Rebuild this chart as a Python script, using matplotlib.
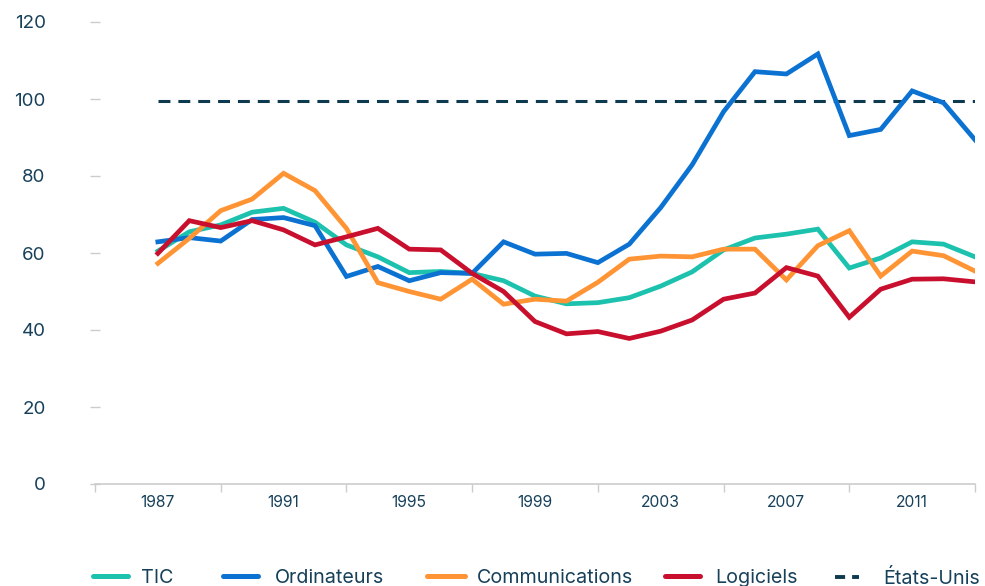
import numpy as np
import matplotlib.pyplot as plt
from matplotlib.lines import Line2D

years = np.arange(1987, 2014)

tic = [60.5, 65.5, 67.3, 70.6, 71.6, 68.0, 62.1, 59.0, 54.9, 55.2, 54.7, 52.8, 48.8,
       46.8, 47.1, 48.4, 51.4, 55.1, 60.8, 63.9, 64.9, 66.2, 56.1, 58.7, 62.9, 62.3, 59.0]
ordinateurs = [62.9, 64.0, 63.1, 68.7, 69.2, 67.1, 53.9, 56.5, 52.8, 54.9, 54.7, 62.9, 59.7,
               59.9, 57.5, 62.3, 71.8, 82.9, 96.7, 107.1, 106.5, 111.7, 90.5, 92.1, 102.1, 99.0, 89.4]
communications = [57.3, 63.8, 71.0, 74.0, 80.7, 76.2, 66.4, 52.3, 50.0, 48.0, 53.2, 46.7, 48.0,
                  47.5, 52.4, 58.4, 59.2, 59.0, 61.0, 61.0, 53.0, 61.9, 65.8, 54.0, 60.5, 59.3, 55.3]
logiciels = [59.9, 68.4, 66.6, 68.4, 66.0, 62.1, 64.2, 66.4, 61.0, 60.8, 54.7, 50.0, 42.2,
             39.0, 39.6, 37.8, 39.7, 42.6, 48.0, 49.6, 56.2, 54.0, 43.3, 50.6, 53.2, 53.3, 52.5]
etats_unis = 99.5

labels = ['TIC', 'Ordinateurs', 'Communications', 'Logiciels', 'États-Unis']
colors = ['#1dc2ae', '#0b72d2', '#ff9434', '#c8102e']
dash_col = '#0e3a4f'
txt = '#17405a'

plt.rcParams['font.family'] = ['Inter', 'DejaVu Sans']

fig = plt.figure(figsize=(9.85, 5.86), dpi=100)
ax = fig.add_axes([95/985, 1-484/586, 880/985, 462/586])

for ser, c in zip([tic, ordinateurs, communications, logiciels], colors):
    ax.plot(years, ser, color=c, lw=3.4, solid_joinstyle='miter', zorder=3)
ax.plot([years[0], years[-1]], [etats_unis, etats_unis], color=dash_col, lw=2.2,
        dashes=(3.9, 2.6), zorder=2)

ax.set_xlim(1985, 2013)
ax.set_ylim(0, 120)
ax.set_yticks(range(0, 121, 20))
ax.set_xticks(range(1985, 2014, 4))
ax.set_xticks(range(1987, 2012, 4), minor=True)
ax.set_xticklabels([])
ax.set_xticklabels([str(y) for y in range(1987, 2012, 4)], minor=True)
ax.tick_params(axis='x', which='major', length=6, color='#cccccc', width=1)
ax.tick_params(axis='x', which='minor', length=0, pad=8, labelsize=11.3, labelcolor=txt)
ax.tick_params(axis='y', length=7, direction='inout', color='#cccccc', width=1,
               pad=32, labelsize=13.5, labelcolor=txt)
for s in ['top', 'right', 'left']:
    ax.spines[s].set_visible(False)
ax.spines['bottom'].set_color('#cccccc')
ax.spines['bottom'].set_linewidth(1.2)

# legend entries placed one by one, like the original
handles = [Line2D([], [], color=c, lw=3.6, solid_capstyle='round') for c in colors]
handles.append(Line2D([], [], color=dash_col, lw=2.8, dashes=(2.6, 1.8)))
xpos = [93, 223, 427, 665, 835]
hlen = [1.75, 1.75, 1.95, 1.75, 1.2]
hpad = [0.7, 0.9, 0.6, 0.8, 1.25]
for h, lab, x0, hl, hp in zip(handles, labels, xpos, hlen, hpad):
    leg = fig.legend([h], [lab], loc='center left', bbox_to_anchor=(x0/985, 1-578/586),
                     frameon=False, fontsize=14.2, handlelength=hl, handletextpad=hp,
                     borderpad=0, borderaxespad=0)
    leg.get_texts()[0].set_color(txt)

fig.savefig('out.png', dpi=100)
